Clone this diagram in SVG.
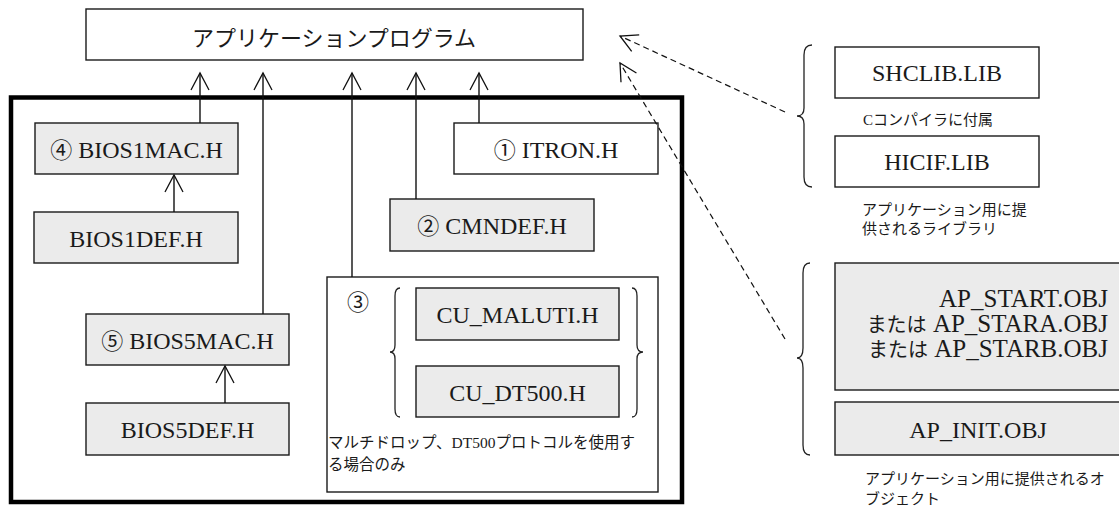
<svg xmlns="http://www.w3.org/2000/svg" width="1119" height="506" viewBox="0 0 1119 506">
<style>
.box{stroke:#1a1a1a;stroke-width:1.4;fill:#ffffff}
.grey{fill:#ebebeb}
.lbl{font-family:"Liberation Serif","Times New Roman",serif;font-size:24px;font-weight:normal;fill:#1a1a1a;text-anchor:middle}
.num{font-family:"Noto Sans CJK JP",sans-serif;font-size:22px}
.jp{font-family:"Noto Sans CJK JP",sans-serif;font-size:15px;fill:#1a1a1a}
.ser{font-family:"Liberation Serif","Times New Roman",serif}
.ln{stroke:#111;stroke-width:1.4;fill:none}
.dash{stroke:#111;stroke-width:1.2;fill:none;stroke-dasharray:6 4}
.brace{stroke:#222;stroke-width:1.3;fill:none}
</style>
<defs>
<marker id="arr" markerUnits="userSpaceOnUse" markerWidth="24" markerHeight="24" viewBox="-20 -12 24 24" refX="0" refY="0" orient="auto">
<path d="M-17,-9 L0,0 L-17,9" fill="none" stroke="#111" stroke-width="1.3" stroke-dasharray="none"/>
</marker>
</defs>
<rect width="1119" height="506" fill="#ffffff"/>

<g id="app">
<rect class="box" x="86" y="9" width="497" height="51"/>
<text x="334" y="46" style="font-family:'Noto Sans CJK JP',sans-serif;font-size:22px;fill:#1a1a1a;text-anchor:middle">アプリケーションプログラム</text>
</g>

<g id="frame">
<rect x="11" y="97.5" width="671" height="404.5" fill="none" stroke="#000" stroke-width="4.5"/>
</g>

<g id="bios1mac">
<rect class="box grey" x="35" y="123" width="203" height="51"/>
<text class="lbl" x="136.5" y="158"><tspan class="num">④</tspan> BIOS1MAC.H</text>
</g>
<g id="bios1def">
<rect class="box grey" x="34" y="212" width="204" height="51"/>
<text class="lbl" x="136" y="247">BIOS1DEF.H</text>
</g>
<g id="itron">
<rect class="box" x="454" y="123" width="204" height="51"/>
<text class="lbl" x="556" y="158"><tspan class="num">①</tspan> ITRON.H</text>
</g>
<g id="cmndef">
<rect class="box grey" x="390" y="199" width="204" height="52"/>
<text class="lbl" x="492" y="234"><tspan class="num">②</tspan> CMNDEF.H</text>
</g>
<g id="bios5mac">
<rect class="box grey" x="86" y="314" width="203" height="51"/>
<text class="lbl" x="187.5" y="349"><tspan class="num">⑤</tspan> BIOS5MAC.H</text>
</g>
<g id="bios5def">
<rect class="box grey" x="86" y="403" width="203" height="52"/>
<text class="lbl" x="187.5" y="438">BIOS5DEF.H</text>
</g>

<g id="group3">
<rect class="box" x="327" y="277" width="331" height="215"/>
<text x="358" y="310" style="font-family:'Noto Sans CJK JP',sans-serif;font-size:22px;fill:#1a1a1a;text-anchor:middle">③</text>
<text class="jp" x="328" y="448" style="font-size:15.5px">マルチドロップ、<tspan class="ser">DT500</tspan>プロトコルを使用す</text>
<text class="jp" x="328" y="470" style="font-size:15.5px">る場合のみ</text>
</g>
<g id="cu_maluti">
<rect class="box grey" x="416" y="288" width="203" height="52"/>
<text class="lbl" x="517.5" y="323">CU_MALUTI.H</text>
</g>
<g id="cu_dt500">
<rect class="box grey" x="416" y="366" width="203" height="51"/>
<text class="lbl" x="517.5" y="401">CU_DT500.H</text>
</g>

<g id="shclib">
<rect class="box" x="835" y="47" width="204" height="51"/>
<text class="lbl" x="937" y="81">SHCLIB.LIB</text>
<text class="jp" x="863" y="125"><tspan class="ser">C</tspan>コンパイラに付属</text>
</g>
<g id="hicif">
<rect class="box" x="835" y="136" width="204" height="51"/>
<text class="lbl" x="937" y="170">HICIF.LIB</text>
</g>
<g id="libnote">
<text class="jp" x="862" y="215">アプリケーション用に提</text>
<text class="jp" x="862" y="234">供されるライブラリ</text>
</g>

<g id="apstart">
<rect class="box grey" x="835" y="263" width="300" height="127"/>
<text class="lbl" x="1108" y="307" style="text-anchor:end;font-size:25px">AP_START.OBJ</text>
<text class="lbl" x="1108" y="332" style="text-anchor:end;font-size:25px"><tspan style="font-family:'Noto Sans CJK JP',sans-serif;font-size:20px">または</tspan> AP_STARA.OBJ</text>
<text class="lbl" x="1108" y="357" style="text-anchor:end;font-size:25px"><tspan style="font-family:'Noto Sans CJK JP',sans-serif;font-size:20px">または</tspan> AP_STARB.OBJ</text>
</g>
<g id="apinit">
<rect class="box grey" x="835" y="402" width="300" height="53"/>
<text class="lbl" x="978" y="438">AP_INIT.OBJ</text>
</g>
<g id="objnote">
<text class="jp" x="865" y="484">アプリケーション用に提供されるオ</text>
<text class="jp" x="865" y="504">ブジェクト</text>
</g>

<g id="braces">
<path class="brace" d="M400,288 Q395,288 395,296 L395,345 Q395,352 390,352 Q395,352 395,359 L395,409 Q395,417 400,417"/>
<path class="brace" d="M632,288 Q637,288 637,296 L637,345 Q637,352 643,352 Q637,352 637,359 L637,409 Q637,417 632,417"/>
<path class="brace" d="M812,45 Q804,45 804,55 L804,108 Q804,116 797,116 Q804,116 804,124 L804,177 Q804,187 812,187"/>
<path class="brace" d="M810,263 Q803,263 803,273 L803,348 Q803,358 797,358 Q803,358 803,368 L803,445 Q803,455 810,455"/>
</g>

<g id="connectors">
<line class="ln" x1="200" y1="123" x2="200" y2="73" marker-end="url(#arr)"/>
<line class="ln" x1="263" y1="314" x2="263" y2="73" marker-end="url(#arr)"/>
<line class="ln" x1="352" y1="277" x2="352" y2="73" marker-end="url(#arr)"/>
<line class="ln" x1="416" y1="199" x2="416" y2="73" marker-end="url(#arr)"/>
<line class="ln" x1="479" y1="123" x2="479" y2="73" marker-end="url(#arr)"/>
<line class="ln" x1="174" y1="212" x2="174" y2="175" marker-end="url(#arr)"/>
<line class="ln" x1="225" y1="403" x2="225" y2="366" marker-end="url(#arr)"/>
<line class="dash" x1="785" y1="112" x2="620" y2="36" marker-end="url(#arr)"/>
<line class="dash" x1="785" y1="339" x2="620" y2="63" marker-end="url(#arr)"/>
</g>
</svg>
